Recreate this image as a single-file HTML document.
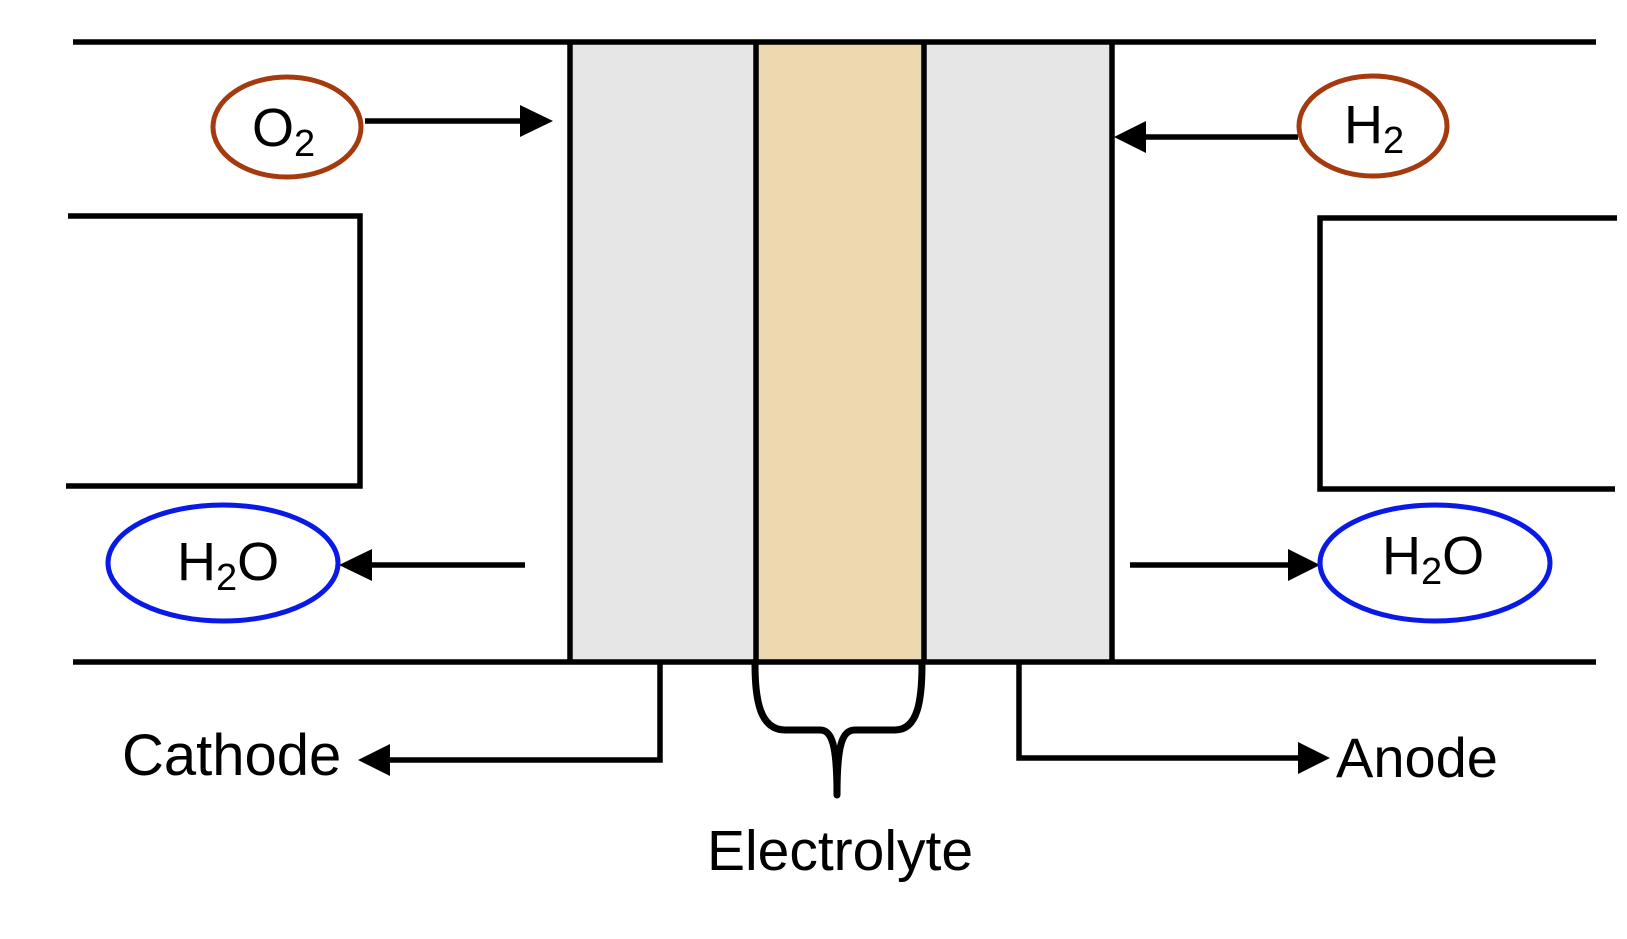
<!DOCTYPE html>
<html><head><meta charset="utf-8"><style>
html,body{margin:0;padding:0;background:#fff;}
svg{display:block}
text{font-family:"Liberation Sans",sans-serif;fill:#000}
</style></head><body>
<svg width="1627" height="939" viewBox="0 0 1627 939" xmlns="http://www.w3.org/2000/svg">
<rect x="570" y="42" width="186" height="620" fill="#e6e6e6"/>
<rect x="924" y="42" width="188" height="620" fill="#e6e6e6"/>
<rect x="756" y="42" width="168" height="620" fill="#edd9b0"/>
<g stroke="#000" stroke-width="5.5" fill="none">
<line x1="73" y1="42" x2="1596" y2="42"/>
<line x1="73" y1="662" x2="1596" y2="662"/>
<line x1="570" y1="42" x2="570" y2="662"/>
<line x1="756" y1="42" x2="756" y2="662"/>
<line x1="924" y1="42" x2="924" y2="662"/>
<line x1="1112" y1="42" x2="1112" y2="662"/>
<polyline points="68,216 360,216 360,486 66,486"/>
<polyline points="1617,218 1320,218 1320,489 1615,489"/>
<line x1="365" y1="121" x2="525" y2="121"/>
<line x1="1298" y1="137" x2="1140" y2="137"/>
<line x1="525" y1="565" x2="365" y2="565"/>
<line x1="1130" y1="565" x2="1295" y2="565"/>
<polyline points="660,662 660,760 385,760"/>
<polyline points="1019,662 1019,758 1300,758"/>
<path d="M755,664 C755,700 760,730 785,730 L820,730 C832,730 837,745 837,795 C837,745 842,730 855,730 L895,730 C918,730 922,700 922,664" stroke-width="7" stroke-linejoin="round"/>
</g>
<g fill="#000">
<polygon points="553,121 520,105 520,137"/>
<polygon points="1114,137 1146,121 1146,153"/>
<polygon points="339,565 372,549 372,581"/>
<polygon points="1320,565 1288,549 1288,581"/>
<polygon points="358,760 390,744 390,776"/>
<polygon points="1330,758 1298,742 1298,774"/>
</g>
<ellipse cx="287" cy="127" rx="74" ry="50" fill="#fff" stroke="#a53a0e" stroke-width="5"/>
<ellipse cx="1373" cy="126" rx="74" ry="50" fill="#fff" stroke="#a53a0e" stroke-width="5"/>
<ellipse cx="223" cy="563" rx="115" ry="58" fill="#fff" stroke="#0a1ae6" stroke-width="5"/>
<ellipse cx="1435" cy="563" rx="115" ry="58" fill="#fff" stroke="#0a1ae6" stroke-width="5"/>
<text x="252" y="146" font-size="54">O<tspan font-size="38" dy="10">2</tspan></text>
<text x="1344" y="143" font-size="54">H<tspan font-size="38" dy="10">2</tspan></text>
<text x="177" y="580" font-size="54">H<tspan font-size="38" dy="10">2</tspan><tspan dy="-10">O</tspan></text>
<text x="1382" y="574" font-size="54">H<tspan font-size="38" dy="10">2</tspan><tspan dy="-10">O</tspan></text>
<text x="122" y="775" font-size="58">Cathode</text>
<text x="1336" y="777" font-size="56">Anode</text>
<text x="840" y="870" font-size="57" text-anchor="middle">Electrolyte</text>
</svg>
</body></html>
